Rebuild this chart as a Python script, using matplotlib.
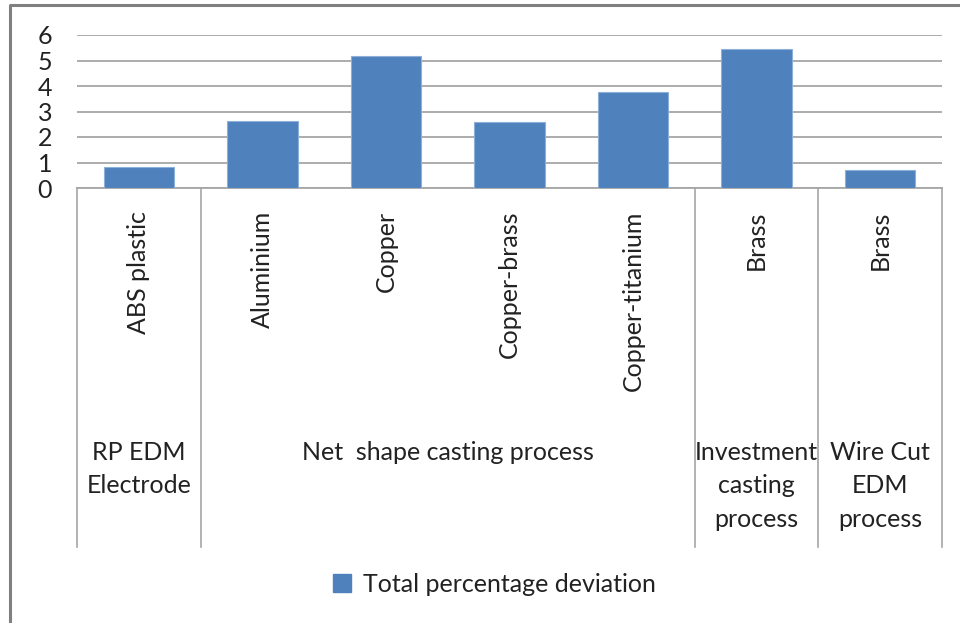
import matplotlib
matplotlib.use("Agg")
import matplotlib.pyplot as plt
from matplotlib.lines import Line2D
from matplotlib.patches import Patch
import matplotlib.transforms as mtransforms

plt.rcParams['font.family'] = ['Lato', 'DejaVu Sans']

materials = ["ABS plastic", "Aluminium", "Copper", "Copper-brass",
             "Copper-titanium", "Brass", "Brass"]
values = [0.82, 2.63, 5.19, 2.58, 3.78, 5.45, 0.72]
groups = ["RP EDM\nElectrode", "Net  shape casting process",
          "Investment\ncasting\nprocess", "Wire Cut\nEDM\nprocess"]
group_sizes = [1, 4, 1, 1]
series_name = "Total percentage deviation"
yticks = [0, 1, 2, 3, 4, 5, 6]

W, H = 960, 623
FS = 18
fig = plt.figure(figsize=(W / 100, H / 100), dpi=100)
fig.patch.set_facecolor("white")

# axes placement in pixels
x0, x1 = 77, 942
ytop, ybot = 35, 188
ax = fig.add_axes([x0 / W, 1 - ybot / H, (x1 - x0) / W, (ybot - ytop) / H])

n = len(materials)
xs = list(range(n))
ax.bar(xs, values, width=0.57, color="#4F81BD", edgecolor="#8DB0DA",
       linewidth=0.8, zorder=3)
ax.set_xlim(-0.5, n - 0.5)
ax.set_ylim(0, 6)
ax.set_yticks(yticks)
ax.set_yticklabels([str(t) for t in yticks], fontsize=FS, color="#222222")
ax.tick_params(axis="y", length=0, pad=18)
ax.set_xticks([])
ax.yaxis.grid(True, color="#A6A6A6", linewidth=1.3, zorder=0)
ax.set_axisbelow(True)
for s in ["top", "right", "left"]:
    ax.spines[s].set_visible(False)
ax.spines["bottom"].set_color("#A6A6A6")
ax.spines["bottom"].set_linewidth(1.3)

trans = mtransforms.blended_transform_factory(ax.transData, fig.transFigure)

def fy(py):
    return 1 - py / H

# separator lines
bounds = [-0.5]
acc = -0.5
for g in group_sizes:
    acc += g
    bounds.append(acc)
for b in bounds:
    fig.add_artist(Line2D([b, b], [fy(ybot), fy(547)], transform=trans,
                          color="#A6A6A6", linewidth=1.2))

# material labels
for x, m in zip(xs, materials):
    fig.text(x, fy(211), m, transform=trans, rotation=90, ha="center",
             va="top", fontsize=FS, color="#222222")

# group labels
start = 0
for g, size in zip(groups, group_sizes):
    center = start + (size - 1) / 2
    fig.text(center, fy(441), g, transform=trans, ha="center", va="top",
             fontsize=FS, color="#222222", linespacing=1.55)
    start += size

# legend
handle = Patch(facecolor="#4F81BD", edgecolor="#4F81BD")
fig.legend([handle], [series_name], loc="center",
           bbox_to_anchor=(494 / W, fy(584)), frameon=False, fontsize=FS,
           handlelength=0.75, handleheight=0.75, handletextpad=0.45,
           labelcolor="#222222")

# outer border (top and left)
fig.add_artist(Line2D([9.5 / W, 9.5 / W, 1], [0, fy(5), fy(5)],
                      transform=fig.transFigure, color="#808080",
                      linewidth=2.2))

fig.savefig("out.png", dpi=100)
